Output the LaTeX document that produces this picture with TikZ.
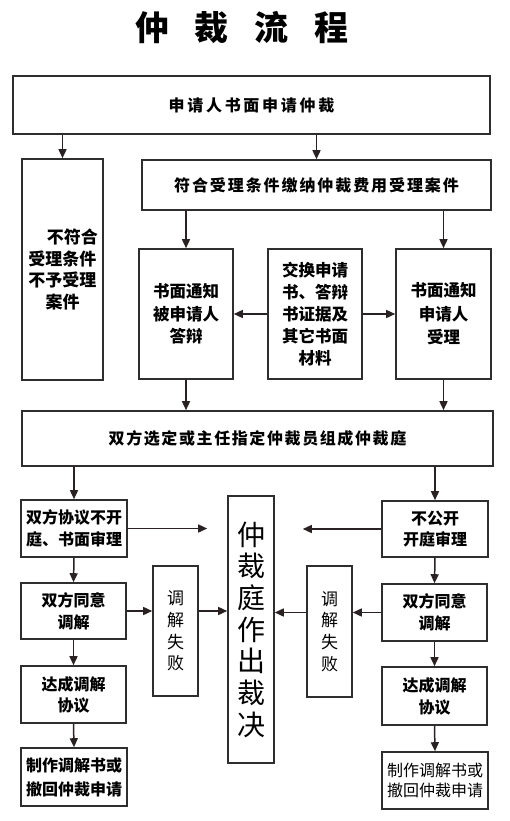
\documentclass[tikz,border=0pt]{standalone}
\usepackage{fontspec}
\setmainfont{Noto Sans CJK SC}
\usetikzlibrary{arrows.meta}
\definecolor{boxc}{HTML}{2E2E2E}
\definecolor{arrc}{HTML}{2A2222}
\tikzset{
  box/.style={draw=boxc, line width=1.6pt, rectangle, inner sep=0pt, align=center, text=black,
    font=\bfseries\fontsize{16}{22}\selectfont},
  thinbox/.style={box, font=\fontsize{17}{21.7}\selectfont},
  arr/.style={draw=arrc, line width=1.5pt, -{Triangle[length=9pt,width=8pt]}},
}
\begin{document}
\begin{tikzpicture}[x=1pt,y=-1pt]
\useasboundingbox (0,0) rectangle (510,821);
% title
\node[font=\bfseries\fontsize{34}{34}\selectfont] (title) at (242,28) {仲\hspace{26pt}裁\hspace{26pt}流\hspace{26pt}程};
% boxes
\node[box, minimum width=477pt, minimum height=58pt] (b1) at (251.5,105)
  {\addfontfeatures{LetterSpace=17}申请人书面申请仲裁};
\node[box, minimum width=81pt, minimum height=221pt, font=\bfseries\fontsize{17}{21.7}\selectfont] (nomatch) at (62.5,269.5)
  {\hspace*{20pt}不符合\\受理条件\\不予受理\\案件};
\node[box, minimum width=349pt, minimum height=50pt] (accept) at (316.5,185)
  {\addfontfeatures{LetterSpace=12}符合受理条件缴纳仲裁费用受理案件};
\node[box, minimum width=94pt, minimum height=130pt, font=\bfseries\fontsize{16.5}{22.5}\selectfont] (notifyR) at (186,314)
  {书面通知\\被申请人\\答辩};
\node[box, minimum width=94pt, minimum height=130pt, font=\bfseries\fontsize{16.5}{22}\selectfont] (exchange) at (315,314)
  {交换申请\\书、答辩\\书证据及\\其它书面\\材料};
\node[box, minimum width=95pt, minimum height=130pt, font=\bfseries\fontsize{16.5}{23.5}\selectfont] (notifyA) at (443.5,314)
  {书面通知\\申请人\\受理};
\node[box, minimum width=471pt, minimum height=55pt] (tribunal) at (257.5,438.5)
  {\addfontfeatures{LetterSpace=10}双方选定或主任指定仲裁员组成仲裁庭};
\node[box, minimum width=106pt, minimum height=57pt] (written) at (74,528.5)
  {双方协议不开\\庭、书面审理};
\node[box, minimum width=106pt, minimum height=56pt, font=\bfseries\fontsize{16}{21}\selectfont] (closed) at (435,529)
  {不公开\\开庭审理};
\node[box, minimum width=46pt, minimum height=267pt, font=\fontsize{28}{31.7}\selectfont] (award) at (251,629.5)
  {仲\\裁\\庭\\作\\出\\裁\\决};
\node[thinbox, minimum width=45pt, minimum height=130pt] (failL) at (175.5,631)
  {调\\解\\失\\败};
\node[thinbox, minimum width=45pt, minimum height=131pt] (failR) at (329.5,631.5)
  {调\\解\\失\\败};
\node[box, minimum width=105pt, minimum height=56pt] (agreeL) at (73.5,611)
  {双方同意\\调解};
\node[box, minimum width=105pt, minimum height=57pt] (agreeR) at (434.5,612.5)
  {双方同意\\调解};
\node[box, minimum width=105pt, minimum height=57pt, font=\bfseries\fontsize{16}{21}\selectfont] (reachL) at (73.5,694.5)
  {达成调解\\协议};
\node[box, minimum width=105pt, minimum height=58pt] (reachR) at (434.5,696)
  {达成调解\\协议};
\node[box, minimum width=106pt, minimum height=58pt, font=\bfseries\fontsize{16}{24}\selectfont] (makeL) at (74,777)
  {制作调解书或\\撤回仲裁申请};
\node[box, minimum width=106pt, minimum height=57pt, font=\fontsize{16}{20}\selectfont] (makeR) at (435,780.5)
  {制作调解书或\\撤回仲裁申请};
% connectors
\draw[arr] (b1.south -| nomatch.north) -- (nomatch.north);
\draw[arr] (b1.south -| accept.north) -- (accept.north);
\draw[arr] (accept.south -| notifyR.north) -- (notifyR.north);
\draw[arr] (accept.south -| notifyA.north) -- (notifyA.north);
\draw[arr] (exchange.west) -- (notifyR.east);
\draw[arr] (exchange.east) -- (notifyA.west);
\draw[arr] (notifyR.south) -- (notifyR.south |- tribunal.north);
\draw[arr] (notifyA.south) -- (notifyA.south |- tribunal.north);
\draw[arr] (tribunal.south -| written.north) -- (written.north);
\draw[arr] (tribunal.south -| closed.north) -- (closed.north);
\draw[arr, shorten >=20pt] (written.east) -- (written.east -| award.west);
\draw[arr, shorten >=28pt] (closed.west) -- (closed.west -| award.east);
\draw[arr] (written.south) -- (agreeL.north);
\draw[arr] (agreeL.south) -- (reachL.north);
\draw[arr] (reachL.south) -- (makeL.north);
\draw[arr] (closed.south) -- (agreeR.north);
\draw[arr] (agreeR.south) -- (reachR.north);
\draw[arr] (reachR.south) -- (makeR.north);
\draw[arr] (agreeL.east) -- (agreeL.east -| failL.west);
\draw[arr] (agreeL.east -| failL.east) -- (agreeL.east -| award.west);
\draw[arr] (agreeR.west) -- (agreeR.west -| failR.east);
\draw[arr] (agreeR.west -| failR.west) -- (agreeR.west -| award.east);
\end{tikzpicture}
\end{document}
